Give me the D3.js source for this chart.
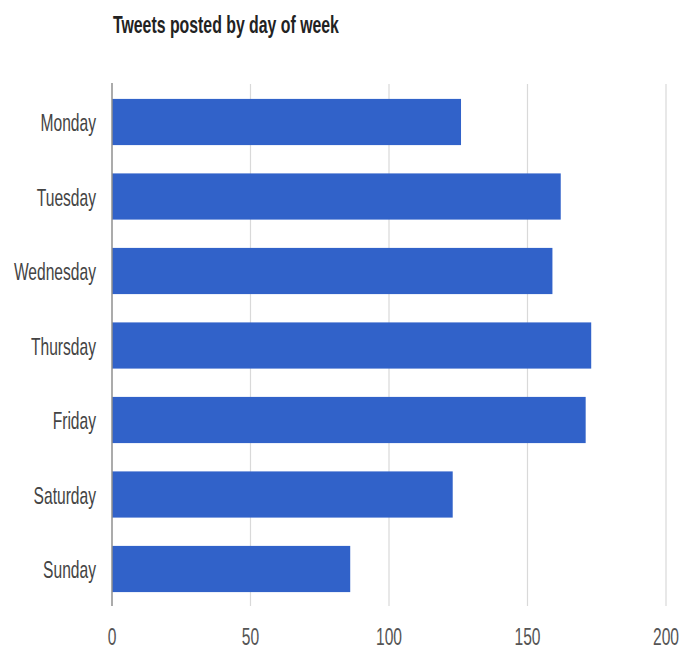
<!DOCTYPE html>
<html>
<head>
<meta charset="utf-8">
<script src="https://cdn.jsdelivr.net/npm/d3@7"></script>
<style>
  html, body { margin: 0; padding: 0; background: #fff; }
  svg { display: block; }
</style>
</head>
<body>
<svg id="chart" width="682" height="652"></svg>
<script>
const title = "Tweets posted by day of week";
const days = ["Monday", "Tuesday", "Wednesday", "Thursday", "Friday", "Saturday", "Sunday"];
const tweets = [126, 162, 159, 173, 171, 123, 86];
const xTicks = [0, 50, 100, 150, 200];

const svg = d3.select("#chart");
const SX = 0.65; // condensed text look
const font = "'Liberation Sans', Arial, sans-serif";

const x = d3.scaleLinear().domain([0, 200]).range([112, 666]);
const y = d3.scaleBand().domain(days).range([84.75, 606.25]).paddingInner(0.38).paddingOuter(0.19);

// gridlines
svg.append("g").selectAll("line")
  .data(xTicks.filter(d => d !== 0))
  .join("line")
  .attr("x1", d => x(d)).attr("x2", d => x(d))
  .attr("y1", 84).attr("y2", 606)
  .attr("stroke", "#d9d9d9").attr("stroke-width", 1.2);

// bars
svg.append("g").selectAll("rect")
  .data(days.map((d, i) => ({ day: d, v: tweets[i] })))
  .join("rect")
  .attr("x", x(0))
  .attr("y", d => y(d.day))
  .attr("width", d => x(d.v) - x(0))
  .attr("height", y.bandwidth())
  .attr("fill", "#3162c9");

// zero axis line
svg.append("line")
  .attr("x1", x(0)).attr("x2", x(0))
  .attr("y1", 83).attr("y2", 606)
  .attr("stroke", "#8f8f8f").attr("stroke-width", 1.5);

// y labels
svg.append("g").selectAll("text")
  .data(days)
  .join("text")
  .attr("transform", d => `translate(${x(0) - 16},${y(d) + y.bandwidth() / 2 + 1}) scale(${SX},1)`)
  .attr("text-anchor", "end")
  .attr("dominant-baseline", "central")
  .attr("font-family", font)
  .attr("font-size", 24)
  .attr("fill", "#444")
  .text(d => d);

// x tick labels
svg.append("g").selectAll("text")
  .data(xTicks)
  .join("text")
  .attr("transform", d => `translate(${x(d)},${645}) scale(${SX},1)`)
  .attr("text-anchor", "middle")
  .attr("font-family", font)
  .attr("font-size", 24)
  .attr("fill", "#555")
  .text(d => d3.format("d")(d));

// title
svg.append("text")
  .attr("transform", `translate(113,33) scale(0.66,1)`)
  .attr("font-family", font)
  .attr("font-size", 24)
  .attr("font-weight", "bold")
  .attr("fill", "#222")
  .text(title);
</script>
</body>
</html>
